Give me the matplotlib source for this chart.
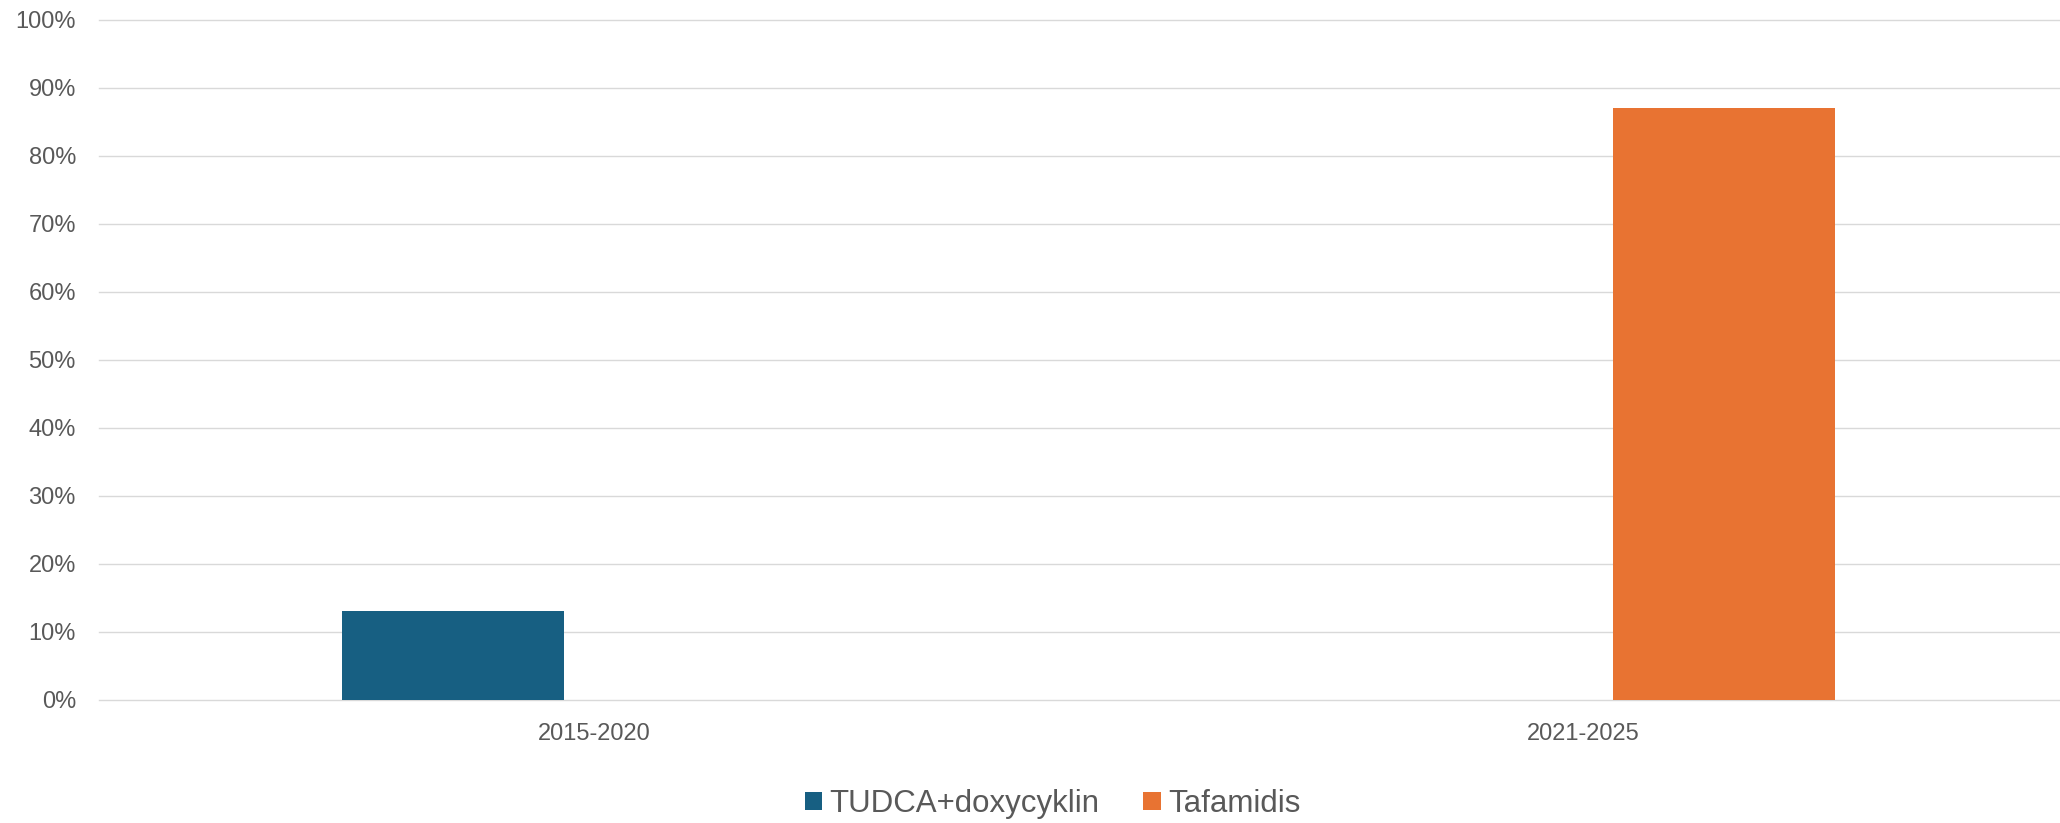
import matplotlib
matplotlib.use('Agg')
import matplotlib.pyplot as plt
from matplotlib.ticker import PercentFormatter
from matplotlib.patches import Patch
import numpy as np

# chart data
categories = ['2015-2020', '2021-2025']
series_names = ['TUDCA+doxycyklin', 'Tafamidis']
tudca_vals = [0.13, 0.0]
tafamidis_vals = [0.0, 0.87]
y_ticks = [0.0, 0.1, 0.2, 0.3, 0.4, 0.5, 0.6, 0.7, 0.8, 0.9, 1.0]

blue = '#175F82'
orange = '#E87332'
grey_text = '#595959'

plt.rcParams['font.family'] = ['Liberation Sans', 'DejaVu Sans']

fig = plt.figure(figsize=(20.6, 8.23), dpi=100)
ax = fig.add_axes([0.0483, 0.150, 0.9602, 0.8257])

x = np.arange(len(categories))
w = 0.2245
off = 0.1426
# skip zero-height bars so nothing is drawn at 0
for xi, v in zip(x, tudca_vals):
    if v > 0:
        ax.bar(xi - off, v, width=w, color=blue, zorder=3)
for xi, v in zip(x, tafamidis_vals):
    if v > 0:
        ax.bar(xi + off, v, width=w, color=orange, zorder=3)

ax.set_xlim(-0.5, len(categories) - 0.5)
ax.set_ylim(0, 1.0)
ax.set_yticks(y_ticks)
ax.yaxis.set_major_formatter(PercentFormatter(1.0, decimals=0))
ax.set_xticks(x)
ax.set_xticklabels(categories)

ax.grid(axis='y', color='#D9D9D9', linewidth=1.0, zorder=0)
ax.set_axisbelow(True)
for gl in ax.get_ygridlines():
    gl.set_clip_on(False)
for s in ax.spines.values():
    s.set_visible(False)
ax.tick_params(axis='y', length=0, pad=17, labelsize=17, labelcolor=grey_text)
ax.tick_params(axis='x', length=0, pad=17, labelsize=17, labelcolor=grey_text)

handles = [Patch(facecolor=blue, label=series_names[0]),
           Patch(facecolor=orange, label=series_names[1])]
fig.legend(handles=handles, loc='center', bbox_to_anchor=(0.511, 0.023),
           ncol=2, frameon=False, fontsize=22.5, labelcolor=grey_text,
           handlelength=0.55, handleheight=0.55, handletextpad=0.25,
           columnspacing=1.4)

fig.savefig('out.png', dpi=100)
